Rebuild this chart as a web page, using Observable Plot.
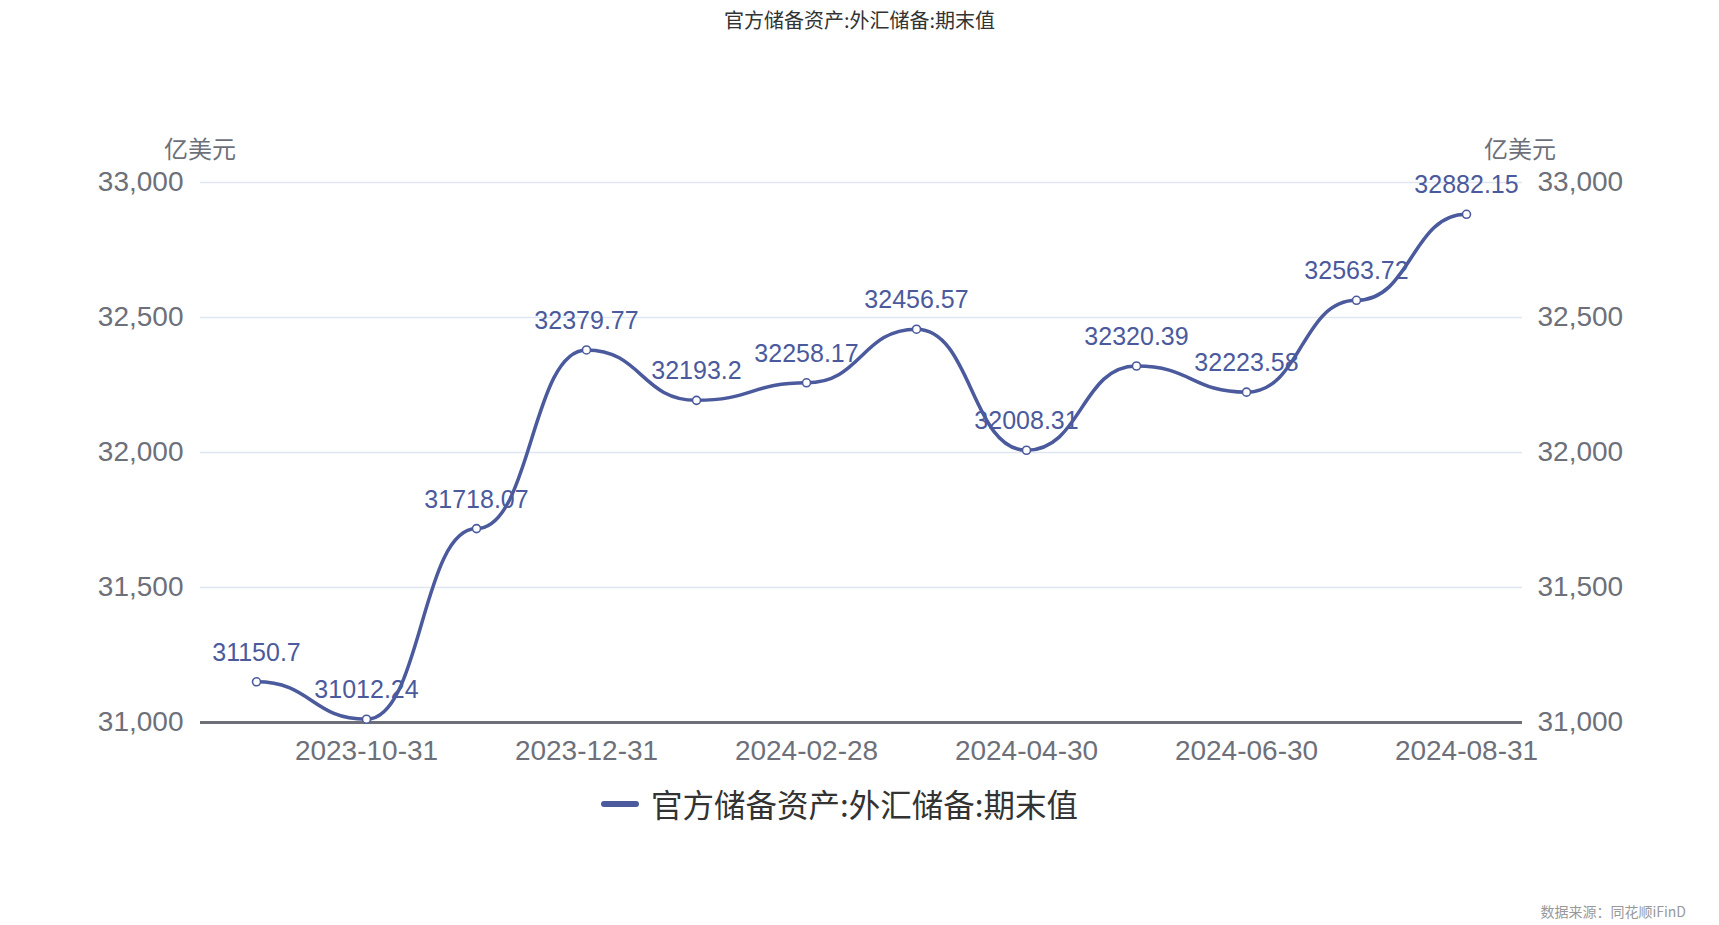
<!DOCTYPE html>
<html>
<head>
<meta charset="utf-8">
<script src="https://cdn.jsdelivr.net/npm/d3@7"></script>
<script src="https://cdn.jsdelivr.net/npm/@observablehq/plot@0.6"></script>
<style>
  html, body { margin: 0; padding: 0; background: #fff; }
  body { width: 1719px; height: 925px; position: relative; overflow: hidden;
         font-family: "Liberation Sans", "Noto Sans CJK SC", sans-serif; }
  .abs { position: absolute; white-space: nowrap; line-height: 1; }
  #chart { position: absolute; left: 0; top: 0; }
</style>
</head>
<body>
<div id="chart"></div>
<div class="abs" id="title" style="left:0;width:1719px;text-align:center;top:10px;font-size:20px;color:#333;font-family:'Noto Sans CJK SC',sans-serif;">官方储备资产:外汇储备:期末值</div>
<div class="abs" style="left:160px;width:80px;text-align:center;top:136px;font-size:24px;color:#6e7079;font-family:'Noto Sans CJK SC',sans-serif;">亿美元</div>
<div class="abs" style="left:1480px;width:80px;text-align:center;top:136px;font-size:24px;color:#6e7079;font-family:'Noto Sans CJK SC',sans-serif;">亿美元</div>
<div class="abs" id="legend" style="left:601px;top:786px;height:36px;display:flex;align-items:center;">
  <span style="display:inline-block;width:38px;height:6px;border-radius:3px;background:#4b5a9c;margin-right:12px;"></span>
  <span style="font-size:31.5px;color:#333;font-family:'Noto Sans CJK SC',sans-serif;">官方储备资产:外汇储备:期末值</span>
</div>
<div class="abs" style="right:33px;top:904px;font-size:14px;color:#999;font-family:'Noto Sans CJK SC',sans-serif;">数据来源：同花顺iFinD</div>
<script>
const dates = ["2023-09-30","2023-10-31","2023-11-30","2023-12-31","2024-01-31","2024-02-28",
               "2024-03-31","2024-04-30","2024-05-31","2024-06-30","2024-07-31","2024-08-31"];
const values = [31150.7, 31012.24, 31718.07, 32379.77, 32193.2, 32258.17,
                32456.57, 32008.31, 32320.39, 32223.58, 32563.72, 32882.15];
const labels = ["31150.7","31012.24","31718.07","32379.77","32193.2","32258.17",
                "32456.57","32008.31","32320.39","32223.58","32563.72","32882.15"];
const yTicks = [31000, 31500, 32000, 32500, 33000];
const xTickLabels = ["2023-10-31","2023-12-31","2024-02-28","2024-04-30","2024-06-30","2024-08-31"];

const data = dates.map((d, i) => ({date: d, value: values[i], label: labels[i]}));

const lineColor = "#4b5a9c";
const axisColor = "#6e7079";

const chart = Plot.plot({
  width: 1719,
  height: 925,
  marginTop: 182,
  marginBottom: 203,
  marginLeft: 200,
  marginRight: 197,
  style: {fontFamily: "'Liberation Sans', 'Noto Sans CJK SC', sans-serif", background: "transparent", overflow: "visible"},
  x: {type: "point", domain: dates, padding: 0.5},
  y: {domain: [31000, 33000]},
  marks: [
    Plot.ruleY(yTicks.slice(1), {stroke: "#e0e6f1", strokeWidth: 1.5}),
    Plot.ruleY([31000], {stroke: axisColor, strokeWidth: 3}),
    Plot.axisY({anchor: "left", ticks: yTicks, tickSize: 0, tickPadding: 17, tickFormat: d3.format(","), fontSize: 28, fill: axisColor, label: null}),
    Plot.axisY({anchor: "right", ticks: yTicks, tickSize: 0, tickPadding: 15, tickFormat: d3.format(","), fontSize: 28, fill: axisColor, label: null}),
    Plot.axisX({ticks: xTickLabels, tickSize: 0, tickPadding: 18, fontSize: 28, fill: axisColor, label: null}),
    Plot.line(data, {x: "date", y: "value", stroke: lineColor, strokeWidth: 3.5, curve: "bump-x"}),
    Plot.dot(data, {x: "date", y: "value", r: 4, fill: "white", stroke: lineColor, strokeWidth: 1.6}),
    Plot.text(data, {x: "date", y: "value", text: "label", dy: -29, fontSize: 25, fill: lineColor})
  ]
});
document.getElementById("chart").appendChild(chart);
</script>
</body>
</html>
